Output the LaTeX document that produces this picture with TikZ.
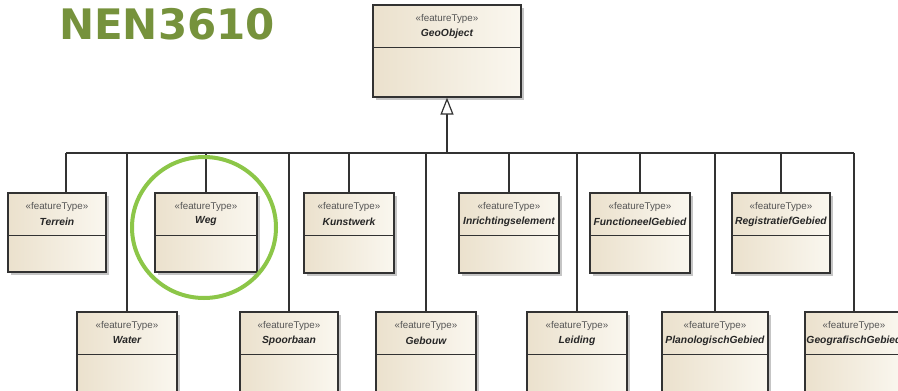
\documentclass[tikz,border=0pt]{standalone}
\usepackage{fontspec}
\setmainfont{Liberation Sans}
\newfontfamily\titlefont{DejaVu Sans}
\usetikzlibrary{shadows,arrows.meta}
\definecolor{boxA}{RGB}{235,225,205}
\definecolor{boxB}{RGB}{250,247,239}
\definecolor{lineC}{RGB}{50,50,50}
\definecolor{ringG}{RGB}{140,198,72}
\definecolor{titleG}{RGB}{118,146,60}
\definecolor{stereoC}{RGB}{85,85,85}
\tikzset{
  umlbox/.style={draw=lineC, line width=1.2pt, left color=boxA, right color=boxB,
    inner sep=0pt, drop shadow={shadow xshift=2.5pt, shadow yshift=-2.5pt, fill=black!50, opacity=0.45}},
  divider/.style={draw=lineC, line width=1.1pt},
  stereo/.style={text=stereoC, font=\fontsize{9.8}{9.8}\selectfont, inner sep=0pt},
  cname/.style={text=black!85, font=\bfseries\itshape\fontsize{10.3}{10.3}\selectfont, inner sep=0pt},
  conn/.style={draw=lineC, line width=1.2pt},
}
\newcommand\umlclass[6]{%
  \node[umlbox, minimum width={(#4)-(#2)}, minimum height={(#5)-(#3)}] (#1) at ({((#2)+(#4))/2},{((#3)+(#5))/2}) {};
  \draw[divider] ([yshift=-43pt]#1.north west) -- ([yshift=-43pt]#1.north east);
  \node[stereo] (#1-st) at ([yshift=-15pt]#1.north) {«featureType»};
  \node[cname] (#1-nm) at ([yshift=-29pt]#1.north) {#6};
}
\begin{document}
\begin{tikzpicture}[x=1pt,y=-1pt]
\useasboundingbox (0,0) rectangle (898,391);
\clip (0,0) rectangle (898,391);
\fill[white] (0,0) rectangle (898,391);

% title
\node[text=titleG, font=\titlefont\bfseries\fontsize{42}{42}\selectfont, inner sep=0pt] (title) at (167,24) {NEN3610};

% classes
\umlclass{geo}{373}{5}{521}{97}{GeoObject}
\umlclass{terrein}{8}{193}{106}{272}{Terrein}
\umlclass{weg}{155}{193}{257}{272}{Weg}
\umlclass{kunstwerk}{304}{193}{394}{273}{Kunstwerk}
\umlclass{inrichting}{459}{193}{559}{273}{Inrichtingselement}
\umlclass{functioneel}{590}{193}{690}{273}{FunctioneelGebied}
\umlclass{registratief}{732}{193}{830}{273}{RegistratiefGebied}
\umlclass{water}{77}{312}{177}{398}{Water}
\umlclass{spoorbaan}{240}{312}{338}{398}{Spoorbaan}
\umlclass{gebouw}{376}{312}{476}{398}{Gebouw}
\umlclass{leiding}{527}{312}{627}{398}{Leiding}
\umlclass{planologisch}{662}{312}{768}{398}{PlanologischGebied}
\umlclass{geografisch}{805}{312}{903}{398}{GeografischGebied}

% bus
\coordinate (bus) at (447,153);
\coordinate (busL) at (66,153);
\coordinate (busR) at (854,153);
\draw[conn] (busL) -- (busR);
\draw[conn] (busL) -- (busL |- terrein.north);
\foreach \c in {weg,kunstwerk,inrichting,functioneel,registratief,water,spoorbaan,gebouw,leiding,planologisch,geografisch}
  \draw[conn] (\c.north) -- (\c.north |- bus);

% generalization arrow
\draw[conn, -{Triangle[open, length=17pt, width=13pt, fill=white]}] (bus) -- (geo.south);

% highlight ring
\draw[ringG, line width=4pt] (204,227.5) ellipse (72pt and 70.5pt);
\end{tikzpicture}
\end{document}
